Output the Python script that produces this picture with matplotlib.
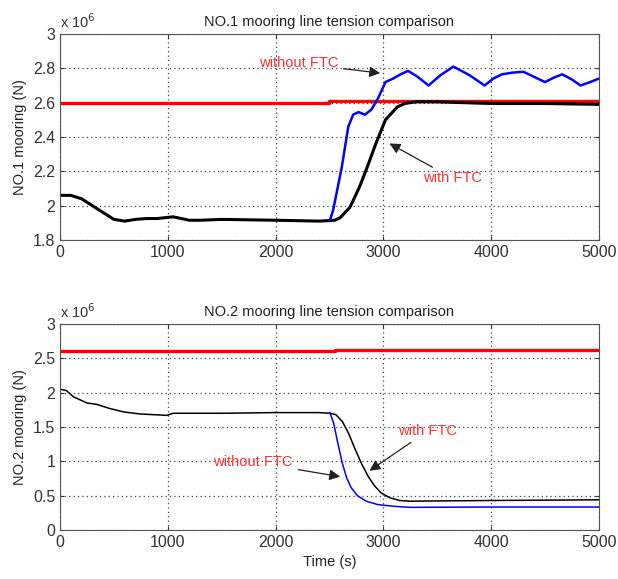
import matplotlib.pyplot as plt

plt.rcParams['font.family'] = ['Liberation Sans', 'DejaVu Sans']

# top panel, tension in 1e6 N
t1_with = [0, 100, 200, 300, 400, 500, 600, 700, 800, 900, 1050, 1200, 1300, 1500, 2000,
           2400, 2550, 2600, 2690, 2780, 2860, 2930, 3020, 3130, 3200, 3300, 3500, 4000, 4500, 5000]
y1_with = [2.06, 2.06, 2.04, 2.0, 1.96, 1.92, 1.91, 1.92, 1.925, 1.925, 1.935, 1.915, 1.915, 1.92, 1.915,
           1.91, 1.915, 1.93, 1.99, 2.11, 2.24, 2.36, 2.50, 2.575, 2.595, 2.605, 2.605, 2.595, 2.595, 2.59]
t1_without = [2505, 2535, 2615, 2675, 2720, 2770, 2830, 2890, 2955, 3020, 3090, 3160, 3230, 3320,
              3420, 3530, 3650, 3800, 3940, 4020, 4100, 4200, 4300, 4400, 4500, 4580, 4660,
              4750, 4830, 4920, 5000]
y1_without = [1.915, 1.975, 2.225, 2.46, 2.53, 2.545, 2.53, 2.56, 2.63, 2.72, 2.74, 2.765, 2.785, 2.75,
              2.70, 2.76, 2.81, 2.76, 2.70, 2.74, 2.765, 2.775, 2.78, 2.75, 2.72, 2.745, 2.765,
              2.735, 2.70, 2.72, 2.74]
t1_limit = [0, 2500, 2500, 5000]
y1_limit = [2.6, 2.6, 2.61, 2.61]

# bottom panel
t2_with = [0, 60, 125, 250, 340, 460, 590, 740, 990, 1050, 1500, 2000, 2400, 2505, 2560, 2620,
           2680, 2740, 2800, 2860, 2920, 2980, 3060, 3150, 3250, 4000, 5000]
y2_with = [2.05, 2.03, 1.94, 1.85, 1.83, 1.77, 1.72, 1.69, 1.67, 1.70, 1.70, 1.71, 1.71, 1.70, 1.68, 1.58,
           1.40, 1.17, 0.96, 0.78, 0.64, 0.54, 0.47, 0.43, 0.42, 0.43, 0.44]
t2_without = [2505, 2540, 2580, 2620, 2660, 2700, 2760, 2840, 2950, 3100, 3250, 4000, 5000]
y2_without = [1.71, 1.55, 1.25, 0.97, 0.76, 0.62, 0.50, 0.42, 0.37, 0.345, 0.33, 0.335, 0.335]
t2_limit = [0, 2550, 2550, 5000]
y2_limit = [2.6, 2.6, 2.62, 2.62]

fig = plt.figure(figsize=(6.18, 5.79), dpi=100)
ax1 = fig.add_axes([0.0971, 0.5855, 0.8719, 0.3558])
ax2 = fig.add_axes([0.0971, 0.0846, 0.8719, 0.3558])


def style_axes(ax, yticks, ylim, title, ylabel):
    ax.set_xlim(0, 5000)
    ax.set_ylim(*ylim)
    ax.set_xticks([0, 1000, 2000, 3000, 4000, 5000])
    ax.set_yticks(yticks)
    ax.set_yticklabels(['%g' % v for v in yticks])
    ax.grid(True, color='#444444', linestyle=(0, (1, 2.5)), linewidth=0.9)
    ax.tick_params(direction='in', top=True, right=True, labelsize=11.5, colors='#333333',
                   length=3)
    for s in ax.spines.values():
        s.set_color('#555555')
    ax.set_title(title, fontsize=10.5, color='#222222', pad=6)
    ax.set_ylabel(ylabel, fontsize=10.5, color='#222222', labelpad=4)
    ax.text(0.0, 1.015, r'x 10$^{6}$', transform=ax.transAxes, fontsize=10.5,
            color='#333333', ha='left', va='bottom')


ax1.plot(t1_limit, y1_limit, color='red', lw=2.4)
ax1.plot(t1_with, y1_with, color='black', lw=2.2)
ax1.plot(t1_without, y1_without, color='blue', lw=1.8)
style_axes(ax1, [1.8, 2, 2.2, 2.4, 2.6, 2.8, 3], (1.8, 3.0),
           'NO.1 mooring line tension comparison', 'NO.1 mooring (N)')
arrow = dict(arrowstyle='-|>', color='#222222', lw=0.9, mutation_scale=16)
ax1.annotate('without FTC', xy=(2997, 2.77), xytext=(2580, 2.83), color='#ff3333',
             fontsize=10.5, ha='right', va='center', arrowprops=arrow)
ax1.annotate('with FTC', xy=(3035, 2.37), xytext=(3370, 2.20), color='#ff3333',
             fontsize=10.5, ha='left', va='top', arrowprops=arrow)

ax2.plot(t2_limit, y2_limit, color='red', lw=2.4)
ax2.plot(t2_with, y2_with, color='black', lw=1.1)
ax2.plot(t2_without, y2_without, color='blue', lw=1.1)
style_axes(ax2, [0, 0.5, 1, 1.5, 2, 2.5, 3], (0, 3.0),
           'NO.2 mooring line tension comparison', 'NO.2 mooring (N)')
ax2.set_xlabel('Time (s)', fontsize=10.5, color='#222222', labelpad=4)
ax2.annotate('without FTC', xy=(2625, 0.77), xytext=(2160, 0.99), color='#ff3333',
             fontsize=10.5, ha='right', va='center', arrowprops=arrow)
ax2.annotate('with FTC', xy=(2850, 0.84), xytext=(3137, 1.34), color='#ff3333',
             fontsize=10.5, ha='left', va='bottom', arrowprops=arrow)

fig.savefig('out.png', dpi=100)
